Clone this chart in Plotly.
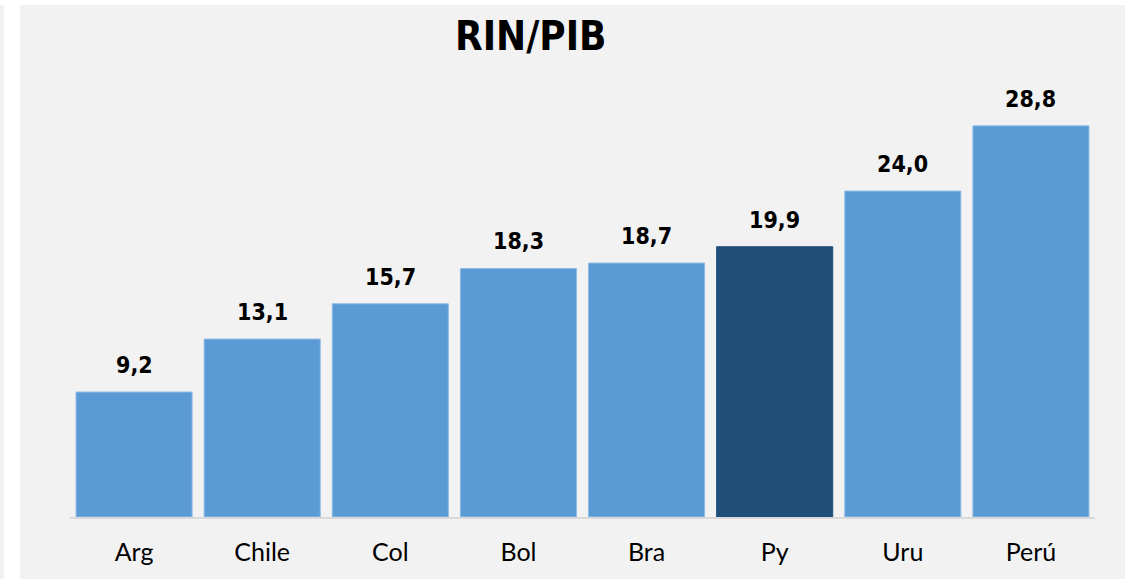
import plotly.graph_objects as go

categories = ["Arg", "Chile", "Col", "Bol", "Bra", "Py", "Uru", "Perú"]
values = [9.2, 13.1, 15.7, 18.3, 18.7, 19.9, 24.0, 28.8]
highlight = "Py"
title_text = "RIN/PIB"

LIGHT = "#5B9BD5"
DARK = "#1F4E79"
colors = [DARK if c == highlight else LIGHT for c in categories]
line_colors = [DARK if c == highlight else "#8FBCE6" for c in categories]
labels = [f"{v:.1f}".replace(".", ",") for v in values]

COND = "'DejaVu Sans Condensed', 'Liberation Sans Narrow', 'Roboto Condensed', Roboto, sans-serif"

fig = go.Figure(
    go.Bar(
        x=categories,
        y=values,
        marker=dict(color=colors, line=dict(color=line_colors, width=1)),
        hoverinfo="skip",
    )
)

for c, v, t in zip(categories, values, labels):
    fig.add_annotation(
        x=c, y=v, text=f"<b>{t}</b>", showarrow=False,
        yanchor="middle", yshift=27,
        font=dict(family=COND, size=23, color="#000000"),
    )

fig.add_annotation(
    xref="paper", yref="paper", x=0.45, y=1.0525,
    text=f"<b>{title_text}</b>", showarrow=False,
    xanchor="center", yanchor="middle",
    font=dict(family=COND, size=40, color="#000000"),
)

# background panel
fig.add_shape(type="rect", xref="paper", yref="paper",
              x0=-0.0488, x1=1.0293, y0=-0.2, y1=1.1204,
              fillcolor="#F2F2F2", line=dict(width=0), layer="below")
fig.add_shape(type="rect", xref="paper", yref="paper",
              x0=-0.0683, x1=-0.0644, y0=-0.2, y1=1.1204,
              fillcolor="#F2F2F2", line=dict(width=0), layer="below")

fig.update_layout(
    width=1136, height=579,
    margin=dict(l=70, r=41, t=60, b=62),
    paper_bgcolor="#FFFFFF",
    plot_bgcolor="rgba(0,0,0,0)",
    bargap=0.094,
    showlegend=False,
    xaxis=dict(
        showline=True, linecolor="#D9D9D9", linewidth=2,
        showgrid=False, ticks="", zeroline=False,
        tickfont=dict(family="Lato", size=25, color="#000000"),
        ticklabelstandoff=12,
    ),
    yaxis=dict(range=[0, 33.65], visible=False, showgrid=False, zeroline=False),
)

fig.write_html("out.html", config={"displayModeBar": False},
               post_script="document.body.style.margin='0';")
